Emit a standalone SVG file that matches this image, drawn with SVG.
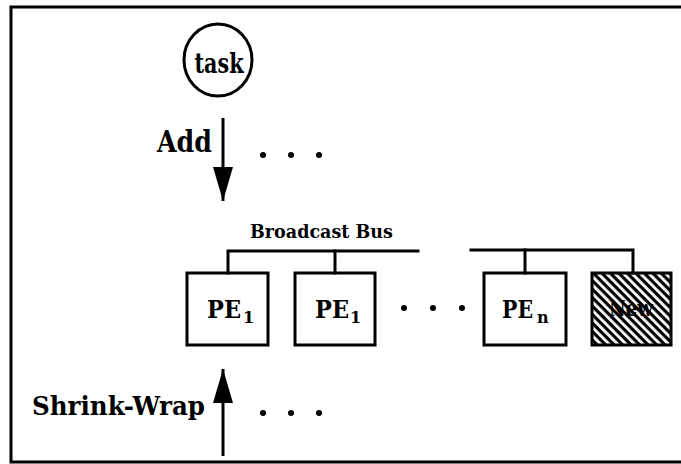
<svg xmlns="http://www.w3.org/2000/svg" width="681" height="464" viewBox="0 0 681 464">
  <style>
    .ln { stroke: #000; stroke-width: 3; fill: none; stroke-linecap: square; }
    .box { stroke: #000; stroke-width: 3; fill: #fff; }
    .lbl { font-family: "DejaVu Serif", "Liberation Serif", serif; font-weight: bold; fill: #000; }
    .dot { fill: #000; }
  </style>
  <defs>
    <pattern id="hatch" patternUnits="userSpaceOnUse" width="6" height="6" patternTransform="rotate(-45)">
      <rect x="0" y="0" width="6" height="6" fill="#000"/>
      <rect x="0" y="0" width="2.8" height="6" fill="#fff"/>
    </pattern>
    <!-- filled triangular arrowhead, tip at the line end -->
    <marker id="head" viewBox="0 0 34 20" refX="34" refY="10" markerUnits="userSpaceOnUse" markerWidth="34" markerHeight="20" orient="auto">
      <path d="M0,0 L34,10 L0,20 Z" fill="#000"/>
    </marker>
  </defs>

  <!-- outer frame (open on the right) -->
  <g id="frame">
    <path class="ln" d="M681,7 L11,7 L11,462 L681,462"/>
  </g>

  <!-- task node -->
  <g id="task">
    <ellipse cx="218" cy="60" rx="34" ry="36" fill="#fff" stroke="#000" stroke-width="3"/>
    <text class="lbl" x="219" y="73" font-size="28" text-anchor="middle" textLength="49" lengthAdjust="spacingAndGlyphs">task</text>
  </g>

  <!-- processing elements -->
  <g id="pe1a">
    <rect class="box" x="187" y="273" width="81" height="72"/>
    <text class="lbl" x="207" y="318" font-size="24"><tspan textLength="34" lengthAdjust="spacingAndGlyphs">PE</tspan><tspan x="243" y="323" font-size="16">1</tspan></text>
  </g>
  <g id="pe1b">
    <rect class="box" x="295" y="273" width="80" height="72"/>
    <text class="lbl" x="315" y="318" font-size="24"><tspan textLength="34" lengthAdjust="spacingAndGlyphs">PE</tspan><tspan x="350" y="323" font-size="16">1</tspan></text>
  </g>
  <g id="pen">
    <rect class="box" x="484" y="273" width="82" height="72"/>
    <text class="lbl" x="502" y="318" font-size="24"><tspan textLength="31" lengthAdjust="spacingAndGlyphs">PE</tspan><tspan x="537" y="323" font-size="16">n</tspan></text>
  </g>
  <g id="new">
    <rect x="592" y="273" width="79" height="72" fill="url(#hatch)" stroke="#000" stroke-width="3"/>
    <text class="lbl" x="631" y="316" font-size="22" text-anchor="middle" textLength="44" lengthAdjust="spacingAndGlyphs">New</text>
  </g>

  <!-- bus label and operation labels -->
  <g id="labels">
    <text class="lbl" x="250" y="238" font-size="19" textLength="143" lengthAdjust="spacingAndGlyphs">Broadcast Bus</text>
    <text class="lbl" x="157" y="152" font-size="30" textLength="55" lengthAdjust="spacingAndGlyphs">Add</text>
    <text class="lbl" x="32" y="415" font-size="26" textLength="173" lengthAdjust="spacingAndGlyphs">Shrink-Wrap</text>
  </g>

  <!-- ellipses -->
  <g id="dots">
    <circle class="dot" cx="263" cy="155" r="3"/>
    <circle class="dot" cx="291" cy="155" r="3"/>
    <circle class="dot" cx="319" cy="155" r="3"/>
    <circle class="dot" cx="404" cy="308" r="3"/>
    <circle class="dot" cx="433" cy="308" r="3"/>
    <circle class="dot" cx="462" cy="308" r="3"/>
    <circle class="dot" cx="263" cy="413" r="3"/>
    <circle class="dot" cx="291" cy="413" r="3"/>
    <circle class="dot" cx="319" cy="413" r="3"/>
  </g>

  <!-- connectors: bus segments, drops, arrows -->
  <g id="connectors">
    <path class="ln" d="M228,273 L228,251 L418,251"/>
    <path class="ln" d="M335,251 L335,273"/>
    <path class="ln" d="M471,250 L633,250 L633,273"/>
    <path class="ln" d="M525,250 L525,273"/>
    <line x1="223" y1="118" x2="223" y2="201" stroke="#000" stroke-width="3" marker-end="url(#head)"/>
    <line x1="223" y1="456" x2="223" y2="369" stroke="#000" stroke-width="3" marker-end="url(#head)"/>
  </g>
</svg>
